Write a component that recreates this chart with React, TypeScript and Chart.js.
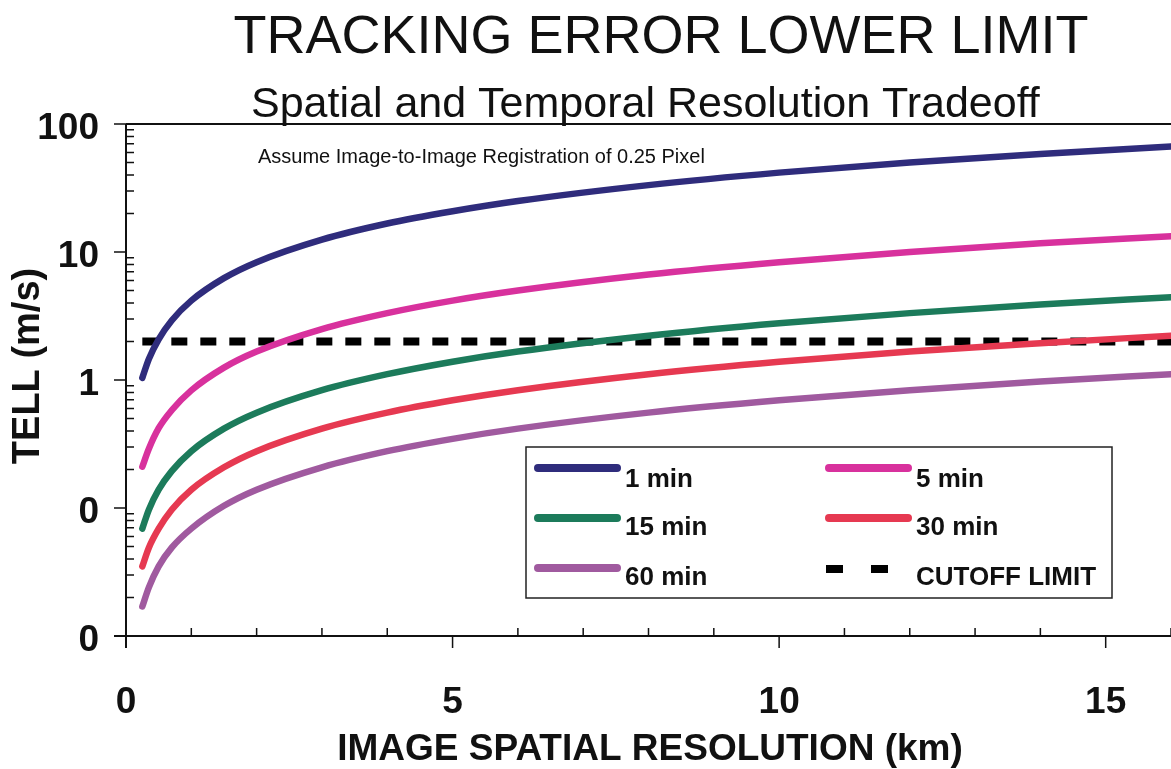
import React, { useEffect, useRef } from "react";
import { Chart, registerables } from "chart.js";

Chart.register(...registerables);

// Image spatial resolution (km)
const resolutionKm = [0.25, 0.35, 0.5, 0.7, 1, 1.5, 2, 3, 4, 5, 6, 8, 10, 12, 14, 16];

// TELL (m/s)
const tell1min = [1.04, 1.46, 2.08, 2.92, 4.17, 6.25, 8.33, 12.5, 16.7, 20.8, 25.0, 33.3, 41.7, 50.0, 58.3, 66.7];
const tell5min = [0.21, 0.29, 0.42, 0.58, 0.83, 1.25, 1.67, 2.5, 3.33, 4.17, 5.0, 6.67, 8.33, 10.0, 11.7, 13.3];
const tell15min = [0.069, 0.097, 0.139, 0.194, 0.278, 0.417, 0.556, 0.833, 1.11, 1.39, 1.67, 2.22, 2.78, 3.33, 3.89, 4.44];
const tell30min = [0.035, 0.049, 0.069, 0.097, 0.139, 0.208, 0.278, 0.417, 0.556, 0.694, 0.833, 1.11, 1.39, 1.67, 1.94, 2.22];
const tell60min = [0.017, 0.024, 0.035, 0.049, 0.069, 0.104, 0.139, 0.208, 0.278, 0.347, 0.417, 0.556, 0.694, 0.833, 0.972, 1.11];

const cutoffX = [0.25, 16];
const cutoffY = [2, 2];

const seriesLabels = ["1 min", "5 min", "15 min", "30 min", "60 min", "CUTOFF LIMIT"];

// Tick labels
const xMajorTicks = [0, 5, 10, 15];
const xTickLabels = ["0", "5", "10", "15"];
const yMajorTicks = [100, 10, 1, 0.1, 0.01];
const yTickLabels = ["100", "10", "1", "0", "0"];

const titleText = "TRACKING ERROR LOWER LIMIT";
const subtitleText = "Spatial and Temporal Resolution Tradeoff";
const noteText = "Assume Image-to-Image Registration of 0.25 Pixel";
const xTitle = "IMAGE SPATIAL RESOLUTION (km)";
const yTitle = "TELL (m/s)";

const FONT = '"Liberation Sans", Arial, Helvetica, sans-serif';

const toPts = (xs: number[], ys: number[]) => xs.map((x, i) => ({ x, y: ys[i] }));

const decorPlugin = {
  id: "decor",
  afterDraw(chart: any) {
    const ctx = chart.ctx as CanvasRenderingContext2D;
    const ca = chart.chartArea;
    const xs = chart.scales.x;
    const ys = chart.scales.y;
    ctx.save();
    ctx.strokeStyle = "#111";
    ctx.fillStyle = "#111";
    ctx.lineCap = "butt";

    // axis frame
    ctx.lineWidth = 2;
    ctx.beginPath();
    ctx.moveTo(ca.left, ca.top);
    ctx.lineTo(ca.right, ca.top);
    ctx.moveTo(ca.left, ca.top);
    ctx.lineTo(ca.left, ca.bottom + 12);
    ctx.moveTo(ca.left - 12, ca.bottom);
    ctx.lineTo(ca.right, ca.bottom);
    ctx.stroke();

    // y ticks
    ctx.lineWidth = 1.5;
    ctx.beginPath();
    for (const v of yMajorTicks) {
      const py = ys.getPixelForValue(v);
      ctx.moveTo(ca.left - 12, py);
      ctx.lineTo(ca.left, py);
    }
    for (let d = 0.01; d < 100; d *= 10) {
      for (let m = 2; m <= 9; m++) {
        const py = ys.getPixelForValue(d * m);
        ctx.moveTo(ca.left, py);
        ctx.lineTo(ca.left + 8, py);
      }
    }
    // x ticks
    for (const v of xMajorTicks) {
      const px = xs.getPixelForValue(v);
      ctx.moveTo(px, ca.bottom);
      ctx.lineTo(px, ca.bottom + 12);
    }
    for (let v = 1; v <= 16; v++) {
      if (v % 5 === 0) continue;
      const px = xs.getPixelForValue(v);
      ctx.moveTo(px, ca.bottom);
      ctx.lineTo(px, ca.bottom - 8);
    }
    ctx.stroke();

    // tick labels
    ctx.font = `bold 37px ${FONT}`;
    ctx.textAlign = "right";
    ctx.textBaseline = "middle";
    yMajorTicks.forEach((v, i) => {
      ctx.fillText(yTickLabels[i], 99, ys.getPixelForValue(v) + 5);
    });
    ctx.textAlign = "center";
    ctx.textBaseline = "alphabetic";
    xMajorTicks.forEach((v, i) => {
      ctx.fillText(xTickLabels[i], xs.getPixelForValue(v), 713);
    });

    // axis titles
    ctx.font = `bold 37px ${FONT}`;
    ctx.fillText(xTitle, 650, 760);
    ctx.save();
    ctx.translate(29, 366);
    ctx.rotate(-Math.PI / 2);
    ctx.font = `bold 38px ${FONT}`;
    ctx.textBaseline = "middle";
    ctx.fillText(yTitle, 0, 0);
    ctx.restore();

    // titles
    ctx.textBaseline = "alphabetic";
    ctx.font = `54px ${FONT}`;
    ctx.fillText(titleText, 661, 53);
    ctx.textAlign = "left";
    ctx.font = `43px ${FONT}`;
    ctx.fillText(subtitleText, 251, 117);
    ctx.font = `20px ${FONT}`;
    ctx.fillText(noteText, 258, 163);

    // legend
    const bx = 526, by = 447, bw = 586, bh = 151;
    ctx.fillStyle = "#fff";
    ctx.fillRect(bx, by, bw, bh);
    ctx.strokeStyle = "#222";
    ctx.lineWidth = 1.5;
    ctx.strokeRect(bx, by, bw, bh);
    const lineY = [468, 518, 568];
    const textBase = [487, 535, 585];
    const colX = [535, 826];
    chart.data.datasets.forEach((ds: any, i: number) => {
      const row = Math.floor(i / 2);
      const col = i % 2;
      const lx = colX[col];
      ctx.save();
      ctx.strokeStyle = ds.borderColor;
      if (ds.borderDash && ds.borderDash.length) {
        ctx.lineWidth = 8;
        ctx.lineCap = "butt";
        ctx.setLineDash([17, 28]);
        ctx.beginPath();
        ctx.moveTo(lx, 569);
        ctx.lineTo(lx + 62, 569);
        ctx.stroke();
      } else {
        ctx.lineWidth = 8;
        ctx.lineCap = "round";
        ctx.beginPath();
        ctx.moveTo(lx + 3, lineY[row]);
        ctx.lineTo(lx + 82, lineY[row]);
        ctx.stroke();
      }
      ctx.restore();
      ctx.fillStyle = "#111";
      ctx.font = `bold 26px ${FONT}`;
      ctx.textAlign = "left";
      ctx.textBaseline = "alphabetic";
      ctx.fillText(ds.label, lx + 90, textBase[row]);
    });

    ctx.restore();
  },
};

export default function App() {
  const canvasRef = useRef<HTMLCanvasElement | null>(null);

  useEffect(() => {
    document.body.style.margin = "0";
    const canvas = canvasRef.current;
    if (!canvas) return;
    const lineDs = (label: string, ys: number[], color: string) => ({
      label,
      data: toPts(resolutionKm, ys),
      borderColor: color,
      backgroundColor: color,
      borderWidth: 6.5,
      borderCapStyle: "round",
      borderJoinStyle: "round",
      cubicInterpolationMode: "monotone",
      pointRadius: 0,
      fill: false,
    });
    const chart = new Chart(canvas, {
      type: "line",
      data: {
        datasets: [
          lineDs(seriesLabels[0], tell1min, "#2f2c7c"),
          lineDs(seriesLabels[1], tell5min, "#d8319d"),
          lineDs(seriesLabels[2], tell15min, "#1c7b5b"),
          lineDs(seriesLabels[3], tell30min, "#e63951"),
          lineDs(seriesLabels[4], tell60min, "#a05a9f"),
          {
            label: seriesLabels[5],
            data: toPts(cutoffX, cutoffY),
            borderColor: "#000",
            backgroundColor: "#000",
            borderWidth: 8,
            borderDash: [16, 13],
            pointRadius: 0,
            fill: false,
          },
        ] as any,
      },
      options: {
        animation: false,
        responsive: false,
        maintainAspectRatio: false,
        layout: { padding: { left: 126, top: 124, right: 0, bottom: 133 } },
        scales: {
          x: { type: "linear", min: 0, max: 16, display: false },
          y: { type: "logarithmic", min: 0.01, max: 100, display: false },
        },
        plugins: {
          legend: { display: false },
          tooltip: { enabled: false },
        },
      },
      plugins: [decorPlugin],
    } as any);
    return () => chart.destroy();
  }, []);

  return (
    <div style={{ position: "absolute", left: 0, top: 0, width: 1171, height: 769, background: "#fff" }}>
      <canvas ref={canvasRef} width={1171} height={769} style={{ width: 1171, height: 769 }} />
    </div>
  );
}
